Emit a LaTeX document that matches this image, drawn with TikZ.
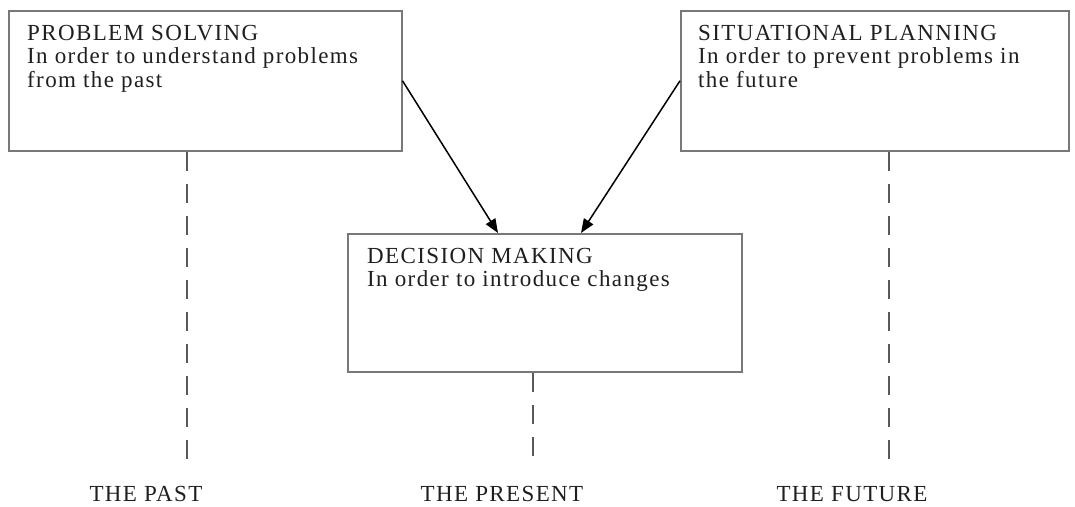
\documentclass[tikz,border=0pt]{standalone}
\usepackage{fontspec}
\setmainfont{Liberation Serif}[LetterSpace=6]
\usetikzlibrary{arrows.meta}
\definecolor{boxline}{rgb}{0.47,0.47,0.47}
\definecolor{dashline}{rgb}{0.35,0.35,0.35}
\definecolor{ink}{rgb}{0.12,0.12,0.12}
\begin{document}
\begin{tikzpicture}[x=1pt,y=-1pt,
  stagebox/.style={draw=boxline,line width=1.5pt,inner sep=0pt,anchor=north west},
  stagetext/.style={anchor=north west,inner sep=0pt,align=left,text=ink,
    font=\fontsize{23}{23.5}\selectfont},
  timelabel/.style={inner sep=0pt,text=ink,font=\fontsize{23}{23.5}\selectfont},
  timeline/.style={draw=dashline,line width=1.5pt,dash pattern=on 19pt off 13pt},
  feeds/.style={draw=black,line width=1.5pt,-{Triangle[length=14pt,width=11pt]}}]
\useasboundingbox (0,0) rectangle (1075,506);

% the three stages
\node[stagebox,minimum width=393pt,minimum height=140pt] (solve) at (8,10) {};
\node[stagebox,minimum width=388pt,minimum height=140pt] (plan) at (680,10) {};
\node[stagebox,minimum width=394pt,minimum height=138pt] (decide) at (347,233) {};

\node[stagetext] (solvetext) at (27,25)
  {PROBLEM SOLVING\\In order to understand problems\\from the past};
\node[stagetext] (plantext) at (698,25)
  {SITUATIONAL PLANNING\\In order to prevent problems in\\the future};
\node[stagetext] (decidetext) at (367,248)
  {DECISION MAKING\\In order to introduce changes};

% time axis labels
\node[timelabel] (past) at (146,494) {THE PAST};
\node[timelabel] (present) at (502,494) {THE PRESENT};
\node[timelabel] (future) at (852,494) {THE FUTURE};

% dashed drops to the time labels
\coordinate (pastend) at (187,462);
\coordinate (presentend) at (533,458);
\coordinate (futureend) at (889,460);
\draw[timeline] (solve.south -| pastend) -- (pastend);
\draw[timeline] (decide.south -| presentend) -- (presentend);
\draw[timeline] (plan.south -| futureend) -- (futureend);

% both outer stages feed decision making
\coordinate (leftin) at (498,233);
\coordinate (rightin) at (581,233);
\draw[feeds] (solve.east) -- (leftin);
\draw[feeds] (plan.west) -- (rightin);
\end{tikzpicture}
\end{document}
